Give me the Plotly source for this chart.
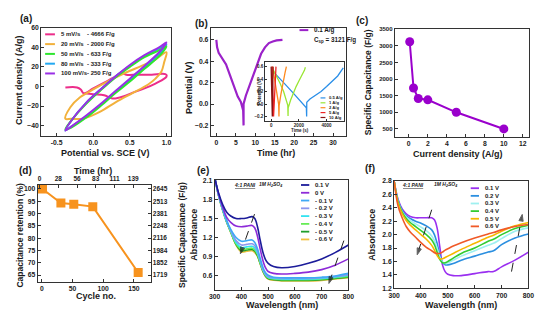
import plotly.graph_objects as go

W, H = 554, 323
FONT = "Liberation Sans, Arial, sans-serif"

# ---------------- (a) cyclic voltammetry ----------------
cv_names = ["5 mV/s", "20 mV/s", "50 mV/s", "80 mV/s", "100 mV/s"]
cv_caps = ["- 4666 F/g", "- 2000 F/g", "- 633 F/g", "- 333 F/g", "- 250 F/g"]
cv_colors = ["#ec2d8a", "#f2b13c", "#2ee62e", "#22a8f2", "#9a2fe6"]
cv5_v = [-0.38, -0.22, -0.17, -0.13, 0.0, 0.15, 0.3, 0.38, 0.45, 0.6, 0.8, 0.95, 1.0,
         1.0, 0.95, 0.85, 0.7, 0.55, 0.42, 0.32, 0.25, 0.15, 0.0, -0.13]
cv5_i = [-1, -1, -3, -7, -2, 4, 10, 14, 12, 12, 12, 13, 12,
         10, 7, 3, -2, -6, -10, -12, -12, -9, -8, -7]
cv20_v = [-0.38, -0.31, -0.18, 0.0, 0.22, 0.44, 0.66, 0.84, 1.0, 0.97, 0.93, 0.85, 0.75,
          0.53, 0.31, 0.09, -0.14, -0.3, -0.38]
cv20_i = [-33, -21, -11, -3, 6, 14, 21, 27, 35, 25, 15, 8, 2, -7, -16, -26, -33, -33, -33]
cv_fast_v = [-0.38, -0.3, -0.1, 0.1, 0.3, 0.5, 0.7, 0.9, 1.0, 0.9, 0.7, 0.5, 0.3, 0.1, -0.1, -0.3, -0.38]
cv50_i = [-44, -35, -18, -4, 9, 20, 30, 37, 41, 31, 18, 5, -7, -20, -32, -42, -44]
cv80_i = [-45, -35, -17, -3, 10, 21, 31, 39, 43, 33, 20, 7, -6, -19, -31, -41, -45]
cv100_i = [-45, -35, -17, -3, 10, 22, 32, 40, 45, 35, 21, 8, -5, -18, -30, -41, -45]

# ---------------- (b) GCD ----------------
gcd_t_hr = [0.0, 0.2, 0.6, 1.5, 2.5, 3.5, 4.5, 5.5, 6.3, 6.9, 7.0, 7.0, 7.6, 8.5, 9.5,
            10.5, 11.5, 12.5, 13.5, 14.5, 15.5, 17.0]
gcd_v = [0.60, 0.53, 0.48, 0.43, 0.37, 0.27, 0.16, 0.07, 0.02, -0.06, -0.2, 0.0, 0.08, 0.17,
         0.28, 0.38, 0.47, 0.53, 0.57, 0.585, 0.595, 0.60]
gcd_label = "0.1 A/g"
gcd_csp = "C<sub>sp</sub> = 3121 F/g"

inset_names = ["0.5 A/g", "1 A/g", "2 A/g", "5 A/g", "10 A/g"]
inset_colors = ["#2b8fe8", "#9ae634", "#ff8a1e", "#ee2424", "#8a1212"]
in05_t = [150, 600, 1000, 1500, 2000, 2400, 2540, 2560, 2570, 2800, 3200, 3600, 4000, 4400, 4800, 5200]
in05_v = [0.52, 0.42, 0.32, 0.2, 0.08, -0.02, -0.06, -0.2, 0.03, 0.08, 0.14, 0.2, 0.28, 0.36, 0.45, 0.58]
in1_t = [150, 400, 650, 900, 1100, 1200, 1220, 1230, 1400, 1600, 1800, 2000, 2200, 2400, 2470]
in1_v = [0.55, 0.45, 0.33, 0.2, 0.06, -0.02, -0.19, -0.06, 0.06, 0.18, 0.28, 0.37, 0.45, 0.54, 0.59]
in2_t = [100, 250, 400, 540, 565, 580, 700, 850, 1000, 1100]
in2_v = [0.6, 0.4, 0.2, 0.0, -0.2, -0.02, 0.15, 0.35, 0.5, 0.6]
in5_t = [60, 100, 140, 165, 175, 230, 290, 350]
in5_v = [0.6, 0.35, 0.1, -0.05, -0.2, 0.05, 0.35, 0.6]
in10_t = [0, 30, 60, 80, 85, 100, 120, 140]
in10_v = [0.6, 0.3, 0.05, -0.1, -0.2, 0.05, 0.35, 0.6]

# ---------------- (c) rate capability ----------------
cd_current = [0.1, 0.5, 1, 2, 5, 10]
cd_capacitance = [3121, 1730, 1415, 1375, 1000, 500]

# ---------------- (d) cycling ----------------
cyc_no = [1, 31, 52, 83, 157]
cyc_retention = [100, 94.3, 93.8, 92.8, 66.0]
ret_ticks = [65, 70, 75, 80, 85, 90, 95, 100]
cap_ticktext = ["1719", "1852", "1984", "2116", "2248", "2381", "2513", "2645"]
time_tickvals = [0, 27.8, 55.6, 83.4, 111.2, 139]
time_ticktext = ["0", "28", "56", "83", "111", "139"]

# ---------------- (e) spectro-electrochem, reduction ----------------
e_names = ["0.1 V", "0 V", "- 0.1 V", "- 0.2 V", "- 0.3 V", "- 0.4 V", "- 0.5 V", "- 0.6 V"]
e_colors = ["#1c1c9a", "#8d2bd8", "#3fa9f5", "#8c96ee", "#33e3f0", "#66ec55", "#1f9e2a", "#f0c040"]
wl_e = [300, 315, 330, 345, 360, 380, 400, 420, 440, 450, 460, 470, 480, 490, 500, 520, 550, 600, 650, 700, 750, 800]
e_p01 = [2.15, 1.90, 1.72, 1.60, 1.54, 1.50, 1.50, 1.51, 1.53, 1.50, 1.37, 1.16, 0.97, 0.85, 0.79, 0.74, 0.72, 0.74, 0.79, 0.86, 0.96, 1.08]
e_p00 = [2.15, 1.88, 1.68, 1.52, 1.44, 1.38, 1.37, 1.38, 1.39, 1.35, 1.22, 1.02, 0.84, 0.72, 0.66, 0.63, 0.62, 0.63, 0.65, 0.69, 0.76, 0.86]
e_m01 = [2.15, 1.87, 1.66, 1.47, 1.33, 1.20, 1.14, 1.15, 1.16, 1.12, 1.02, 0.87, 0.73, 0.64, 0.60, 0.57, 0.56, 0.56, 0.56, 0.57, 0.59, 0.63]
e_m02 = [2.15, 1.87, 1.65, 1.46, 1.31, 1.15, 1.08, 1.09, 1.10, 1.07, 0.98, 0.84, 0.70, 0.62, 0.58, 0.56, 0.55, 0.55, 0.55, 0.56, 0.58, 0.61]
e_m03 = [2.15, 1.86, 1.64, 1.45, 1.30, 1.12, 1.04, 1.05, 1.06, 1.03, 0.95, 0.82, 0.69, 0.61, 0.57, 0.55, 0.54, 0.54, 0.54, 0.55, 0.57, 0.60]
e_m04 = [2.15, 1.86, 1.64, 1.45, 1.29, 1.10, 1.01, 1.02, 1.03, 1.00, 0.93, 0.80, 0.68, 0.60, 0.56, 0.54, 0.53, 0.53, 0.53, 0.54, 0.56, 0.58]
e_m05 = [2.15, 1.86, 1.63, 1.44, 1.29, 1.09, 0.99, 1.00, 1.01, 0.98, 0.91, 0.79, 0.67, 0.59, 0.55, 0.53, 0.52, 0.52, 0.52, 0.53, 0.55, 0.57]
e_m06 = [2.15, 1.85, 1.63, 1.44, 1.28, 1.08, 0.97, 0.98, 0.99, 0.96, 0.90, 0.78, 0.66, 0.58, 0.54, 0.52, 0.51, 0.51, 0.51, 0.52, 0.54, 0.56]
e_arrow1 = [(449, 1.57), (396, 0.94)]
e_arrow2 = [(783, 1.15), (727, 0.47)]

# ---------------- (f) spectro-electrochem, oxidation ----------------
f_names = ["0.1 V", "0.2 V", "0.3 V", "0.4 V", "0.5 V", "0.6 V"]
f_colors = ["#9a2ff0", "#2b8fe0", "#9ff0f0", "#33cc33", "#f5b800", "#f05a28"]
wl_f = [300, 315, 330, 345, 360, 380, 400, 420, 440, 450, 460, 470, 480, 490, 500, 520, 550, 600, 650, 670, 700, 750, 800]
f_p01 = [2.80, 2.52, 2.38, 2.31, 2.27, 2.25, 2.25, 2.25, 2.25, 2.22, 2.10, 1.82, 1.55, 1.45, 1.41, 1.39, 1.39, 1.42, 1.45, 1.45, 1.52, 1.62, 1.74]
f_p02 = [2.80, 2.50, 2.36, 2.28, 2.24, 2.20, 2.17, 2.13, 2.07, 2.00, 1.87, 1.70, 1.59, 1.55, 1.55, 1.57, 1.62, 1.68, 1.74, 1.76, 1.85, 1.95, 2.01]
f_p03 = [2.80, 2.49, 2.34, 2.26, 2.21, 2.16, 2.11, 2.06, 1.98, 1.91, 1.80, 1.67, 1.59, 1.57, 1.58, 1.62, 1.68, 1.76, 1.84, 1.87, 1.94, 2.05, 2.10]
f_p04 = [2.80, 2.48, 2.33, 2.24, 2.18, 2.12, 2.06, 2.00, 1.92, 1.85, 1.74, 1.63, 1.58, 1.58, 1.60, 1.65, 1.72, 1.80, 1.90, 1.93, 2.00, 2.09, 2.14]
f_p05 = [2.80, 2.46, 2.31, 2.21, 2.14, 2.07, 2.00, 1.93, 1.84, 1.77, 1.69, 1.64, 1.64, 1.66, 1.68, 1.72, 1.78, 1.87, 1.96, 1.99, 2.05, 2.13, 2.18]
f_p06 = [2.80, 2.42, 2.25, 2.12, 2.04, 1.96, 1.88, 1.81, 1.76, 1.73, 1.72, 1.72, 1.74, 1.77, 1.79, 1.83, 1.88, 1.95, 2.01, 2.03, 2.07, 2.12, 2.15]
f_arrow1 = [(440, 2.37), (386, 1.70)]
f_arrow2 = [(737, 1.45), (777, 2.30)]


# ---------------- helpers ----------------
def dx(l, r):
    return [l / W, r / W]


def dy(t, b):
    return [1 - b / H, 1 - t / H]


def px(x):
    return x / W


def py(y):
    return 1 - y / H


TICKFONT = dict(family=FONT, size=6.8, color="#222", weight="bold")


def axis(dom, rng, **kw):
    d = dict(domain=dom, range=rng, showline=True, linecolor="#333", linewidth=1, mirror=True,
             ticks="inside", ticklen=3, tickwidth=1, tickcolor="#333", showgrid=False,
             zeroline=False, tickfont=TICKFONT)
    d.update(kw)
    return d


fig = go.Figure()


def line_trace(x, y, color, xa, ya, width=2.0, shape="spline"):
    fig.add_trace(go.Scatter(x=x, y=y, mode="lines", line=dict(color=color, width=width, shape=shape),
                             xaxis=xa, yaxis=ya, showlegend=False, hoverinfo="skip"))


# (a)
cv_data = [(cv5_v, cv5_i), (cv20_v, cv20_i), (cv_fast_v, cv50_i), (cv_fast_v, cv80_i), (cv_fast_v, cv100_i)]
for k in [0, 1, 3, 2, 4]:
    line_trace(cv_data[k][0], cv_data[k][1], cv_colors[k], "x", "y", width=2.0)

# (b)
line_trace(gcd_t_hr, gcd_v, "#9b22c9", "x2", "y2", width=2.2, shape="linear")
inset_data = [(in05_t, in05_v), (in1_t, in1_v), (in2_t, in2_v), (in5_t, in5_v), (in10_t, in10_v)]
for k in range(len(inset_data)):
    line_trace(inset_data[k][0], inset_data[k][1], inset_colors[k], "x3", "y3", width=1.3, shape="linear")

# (c)
fig.add_trace(go.Scatter(x=cd_current, y=cd_capacitance, mode="lines+markers",
                         line=dict(color="#9a00cc", width=2), marker=dict(color="#9a00cc", size=9),
                         xaxis="x4", yaxis="y4", showlegend=False))

# (d)
fig.add_trace(go.Scatter(x=cyc_no, y=cyc_retention, mode="lines+markers",
                         line=dict(color="#f7931e", width=2),
                         marker=dict(color="#f7931e", size=9, symbol="square"),
                         xaxis="x5", yaxis="y5", showlegend=False))
fig.add_trace(go.Scatter(x=[None], y=[None], xaxis="x6", yaxis="y6", showlegend=False, hoverinfo="skip"))

# (e)
e_series = [e_p01, e_p00, e_m01, e_m02, e_m03, e_m04, e_m05, e_m06]
for k in reversed(range(len(e_series))):
    line_trace(wl_e, e_series[k], e_colors[k], "x7", "y7", width=1.6)

# (f)
f_series = [f_p01, f_p02, f_p03, f_p04, f_p05, f_p06]
for k in range(len(f_series)):
    line_trace(wl_f, f_series[k], f_colors[k], "x8", "y8", width=1.6)

# dashed arrows with arrow-shaped end markers
for arr, xa, ya in [(e_arrow1, "x7", "y7"), (e_arrow2, "x7", "y7"), (f_arrow1, "x8", "y8"), (f_arrow2, "x8", "y8")]:
    fig.add_trace(go.Scatter(x=[arr[0][0], arr[1][0]], y=[arr[0][1], arr[1][1]], mode="lines+markers",
                             line=dict(color="#222", width=1, dash="dash"),
                             marker=dict(symbol="arrow", size=[0, 7], angleref="previous", color="#111"),
                             xaxis=xa, yaxis=ya, showlegend=False, hoverinfo="skip"))

# ---------------- layout ----------------
tf_small = dict(family=FONT, size=4.5, color="#222", weight="bold")
tf_d = dict(family=FONT, size=6.5, color="#222", weight="bold")
layout = dict(
    width=W, height=H, margin=dict(l=0, r=0, t=0, b=0),
    paper_bgcolor="white", plot_bgcolor="white", showlegend=False,
    font=dict(family=FONT, color="#222"),
    xaxis=axis(dx(36, 169), [-0.71, 1.067], tickvals=[-0.5, 0, 0.5, 1.0], ticktext=["-0.5", "0.0", "0.5", "1.0"], anchor="y"),
    yaxis=axis(dy(24.3, 135), [-50.7, 60], tickvals=[-40, -20, 0, 20, 40, 60], anchor="x"),
    xaxis2=axis(dx(209.3, 347.7), [-1.43, 33.37], tickvals=[0, 5, 10, 15, 20, 25, 30], anchor="y2"),
    yaxis2=axis(dy(25, 135), [-0.30, 0.707], tickvals=[-0.2, 0.0, 0.2, 0.4, 0.6], tickformat=".1f", anchor="x2"),
    xaxis3=axis(dx(265, 345.7), [-424, 5270], tickvals=[0, 2000, 4000], ticklen=1.5, tickfont=tf_small, anchor="y3"),
    yaxis3=axis(dy(59.3, 119.3), [-0.267, 0.674], tickvals=[-0.2, 0.0, 0.2, 0.4, 0.6], tickformat=".1f",
                ticklen=1.5, tickfont=tf_small, anchor="x3"),
    xaxis4=axis(dx(397.3, 534.3), [-1.48, 12.62], tickvals=[0, 2, 4, 6, 8, 10, 12], anchor="y4"),
    yaxis4=axis(dy(25.7, 136), [256, 3500], tickvals=[500, 1000, 1500, 2000, 2500, 3000, 3500], anchor="x4",
                tickfont=dict(family=FONT, size=6, color="#222", weight="bold")),
    xaxis5=axis(dx(32.3, 147.7), [-7.0, 177.1], tickvals=[0, 50, 100, 150], anchor="y5"),
    yaxis5=axis(dy(185, 284.3), [62.1, 101.6], tickvals=ret_ticks, anchor="x5"),
    xaxis6=axis(dx(32.3, 147.7), [-2.9, 164.7], tickvals=time_tickvals, ticktext=time_ticktext,
                overlaying="x5", side="top", anchor="y6", mirror=False, tickfont=tf_d),
    yaxis6=axis(dy(185, 284.3), [62.1, 101.6], tickvals=ret_ticks, ticktext=cap_ticktext,
                overlaying="y5", side="right", anchor="x6", mirror=False, tickfont=tf_d),
    xaxis7=axis(dx(213.3, 350), [300, 800], tickvals=[300, 400, 500, 600, 700, 800], anchor="y7"),
    yaxis7=axis(dy(180, 292.5), [0.364, 2.11], tickvals=[0.6, 0.9, 1.2, 1.5, 1.8, 2.1], tickformat=".1f", anchor="x7"),
    xaxis8=axis(dx(396.7, 534), [300, 800], tickvals=[300, 400, 500, 600, 700, 800], anchor="y8"),
    yaxis8=axis(dy(180.7, 290.7), [1.2, 2.8], tickvals=[1.2, 1.4, 1.6, 1.8, 2.0, 2.2, 2.4, 2.6, 2.8], tickformat=".1f", anchor="x8"),
)
fig.update_layout(**layout)

ann = []
shapes = []


def text(x, y, s, size=9, xanchor="center", angle=0, bold=True, italic=False):
    ann.append(dict(x=px(x), y=py(y), xref="paper", yref="paper", text=s, showarrow=False,
                    xanchor=xanchor, yanchor="middle", textangle=angle,
                    font=dict(family=FONT, size=size, color="#1a1a1a",
                              weight="bold" if bold else "normal", style="italic" if italic else "normal")))


def key(x0, x1, y, color, width=2):
    shapes.append(dict(type="line", xref="paper", yref="paper", x0=px(x0), x1=px(x1), y0=py(y), y1=py(y),
                       line=dict(color=color, width=width)))


# panel labels
for lab, x, y in [("(a)", 20, 15), ("(b)", 200, 20), ("(c)", 364, 17), ("(d)", 20, 170), ("(e)", 201, 170), ("(f)", 372, 168)]:
    text(x, y, lab, size=10)

# axis titles
TS = 9
text(102, 152, "Potential vs. SCE (V)", TS)
text(14, 78, "Current density (A/g)", TS, angle=-90)
text(276, 152, "Time (hr)", TS)
text(187, 85, "Potential (V)", TS, angle=-90)
text(462, 153, "Current density (A/g)", TS)
text(370, 80, "Specific Capacitance (F/g)", 8.5, angle=-90)
text(92, 298.5, "Cycle no.", TS)
text(89, 171, "Time (hr)", TS)
text(14, 236, "Capacitance retention (%)", 8.5, angle=-90)
text(180, 236, "Specific Capacitance (F/g)", 8.5, angle=-90)
text(282, 307.5, "Wavelength (nm)", TS)
text(192, 236, "Absorbance", TS, angle=-90)
text(465, 307.5, "Wavelength (nm)", TS)
text(374, 236, "Absorbance", TS, angle=-90)
# inset titles
text(300, 129.5, "Time (s)", 4.5)
text(258.5, 89, "Potential (V)", 4.5, angle=-90)

# legend (a)
for k in range(len(cv_names)):
    y = 31 + 10 * k
    key(40, 50, y, cv_colors[k], 2)
    text(54, y, cv_names[k], 6, xanchor="left")
    text(81, y, cv_caps[k], 6, xanchor="left")

# legend (b)
key(300, 309, 26.7, "#9b22c9", 2)
text(313, 26.7, gcd_label, 6.3, xanchor="left")
text(313, 37, gcd_csp, 6.3, xanchor="left")
for k in range(len(inset_names)):
    y = 96 + 5 * k
    key(321.5, 326.5, y, inset_colors[k], 1.2)
    text(328, y, inset_names[k], 4.2, xanchor="left")

# legend (e)
for k in range(len(e_names)):
    y = 185 + 7.95 * k
    key(301.5, 310, y, e_colors[k], 1.8)
    text(314, y, e_names[k], 6, xanchor="left")
text(244, 185, "<u>4:1 PANI</u>", 5, italic=True)
text(270, 185, "1M H<sub>2</sub>SO<sub>4</sub>", 5, italic=True)

# legend (f)
for k in range(len(f_names)):
    y = 188.3 + 7.8 * k
    key(475, 483.5, y, f_colors[k], 1.8)
    text(488, y, f_names[k], 6, xanchor="left")
text(416, 185, "<u>4:1 PANI</u>", 5, italic=True)
text(449, 185, "1M H<sub>2</sub>SO<sub>4</sub>", 5, italic=True)

fig.update_layout(annotations=ann, shapes=shapes)
fig.write_html("out.html")
